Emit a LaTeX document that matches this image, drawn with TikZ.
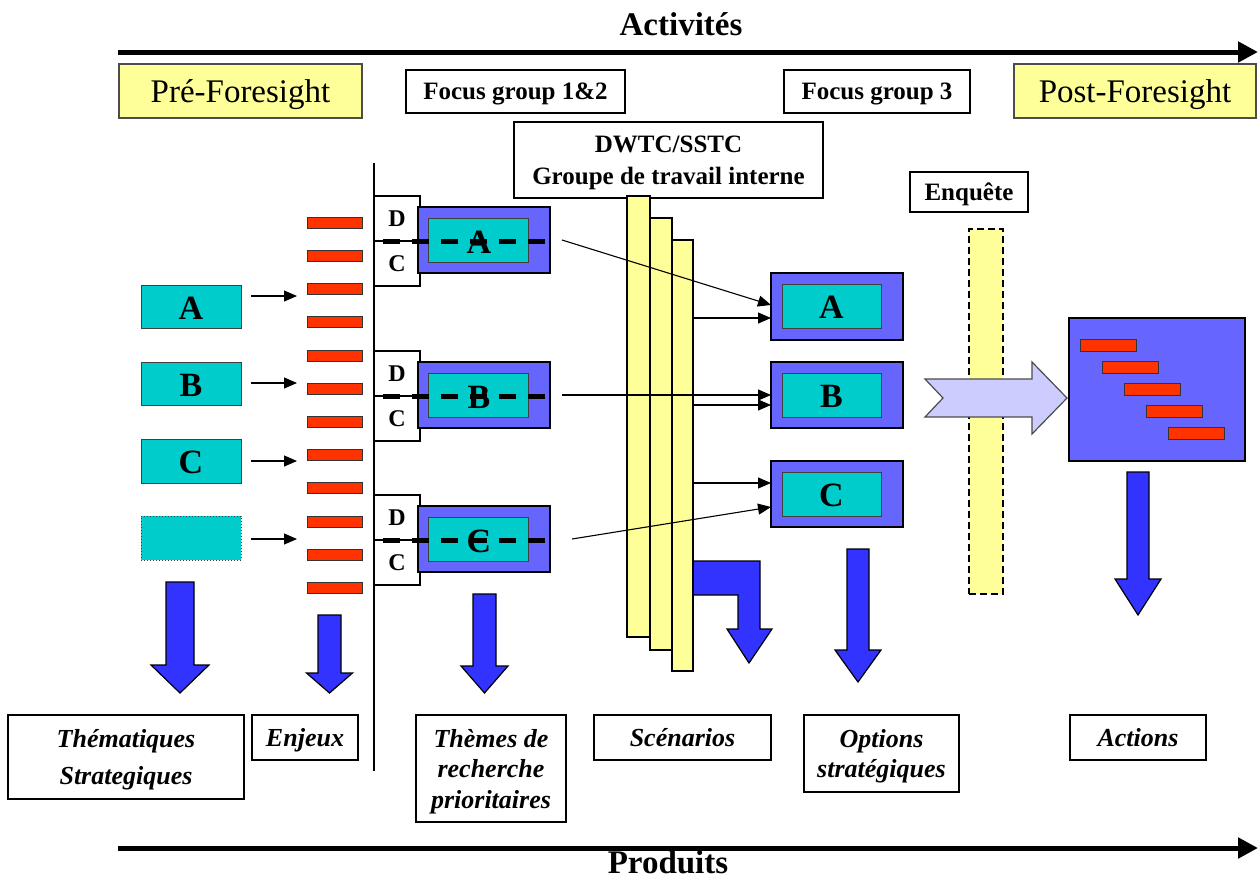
\documentclass[tikz,border=0pt]{standalone}
\usepackage{fontspec}
\setmainfont{Liberation Serif}
\usetikzlibrary{arrows.meta}

\definecolor{lyellow}{HTML}{FFFF99}
\definecolor{cyanb}{HTML}{00CCCC}
\definecolor{blueb}{HTML}{6666FF}
\definecolor{bluea}{HTML}{3333FF}
\definecolor{redb}{HTML}{FF3300}
\definecolor{lilac}{HTML}{CCCCFF}

% rectangle node from its corners: style, name, x1, y1, x2, y2, text
\newcommand\boxat[7]{\node[#1,minimum width={((#5)-(#3))*1pt},minimum height={((#6)-(#4))*1pt}] (#2) at ({((#3)+(#5))/2},{((#4)+(#6))/2}) {#7};}

% block arrow pointing down: centre x, shaft half width, head half width, top, head base, tip
\newcommand\dnarrow[6]{\filldraw[downarrow] ({#1-#2},#4) -- ({#1+#2},#4) -- ({#1+#2},#5) -- ({#1+#3},#5) -- (#1,#6) -- ({#1-#3},#5) -- ({#1-#2},#5) -- cycle;}

% decision group: D/C boxes, framed theme box and dashed split line
\newcommand\dcgroup[3]{%
  \boxat{wbox,dcl}{#1d}{374}{#2}{420}{#2+45}{D}
  \boxat{wbox,dcl}{#1c}{374}{#2+45}{420}{#2+90}{C}
  \boxat{bbox}{#1b}{418}{#2+11}{550}{#2+77}{}
  \boxat{cbox}{#1i}{428}{#2+22}{528}{#2+66}{}
  \node[bigl] (#1l) at (479,#2+45) {#3};
  \draw[splitdash] (383,#2+45) -- (546,#2+45);}

\tikzset{
  every node/.style={inner sep=0pt, outer sep=0pt},
  ybox/.style={draw=black!70, fill=lyellow, line width=1.3pt},
  wbox/.style={draw=black, fill=white, line width=1.2pt},
  cbox/.style={draw=black!75, fill=cyanb, line width=1pt},
  bbox/.style={draw=black, fill=blueb, line width=1.3pt},
  rbar/.style={draw=black!80, fill=redb, line width=1pt},
  sbar/.style={draw=black, fill=lyellow, line width=1.2pt},
  downarrow/.style={draw=black, fill=bluea, line width=1.2pt, line join=miter},
  thinarrow/.style={line width=1.1pt, -{Triangle[length=13pt,width=11pt]}},
  axisarrow/.style={line width=5pt, -{Triangle[length=20pt,width=20pt]}},
  splitdash/.style={line width=5pt, dash pattern=on 17pt off 12pt},
  headl/.style={font=\fontsize{33}{40}\selectfont\bfseries},
  phase/.style={font=\fontsize{33}{40}\selectfont, text depth=0pt},
  lbl/.style={font=\fontsize{25}{32}\selectfont\bfseries, text depth=0pt},
  dcl/.style={font=\fontsize{24}{28}\selectfont\bfseries, text depth=-2pt},
  bigl/.style={font=\fontsize{34}{40}\selectfont\bfseries, yshift=-1.5pt},
  prod/.style={font=\fontsize{26}{30.5}\selectfont\bfseries\itshape, align=center, text depth=-4pt},
}

\begin{document}
\begin{tikzpicture}[x=1pt,y=-1pt]
\useasboundingbox (0,0) rectangle (1260,879);

% timeline axes
\coordinate (actL) at (118,52);
\coordinate (actR) at (1258,52);
\coordinate (prdL) at (118,848);
\coordinate (prdR) at (1258,848);
\draw[axisarrow] (actL) -- (actR);
\draw[axisarrow] (prdL) -- (prdR);
\node[headl] (activ) at (681,24) {Activités};
\node[headl] (produ) at (668,862) {Produits};

% phase headers
\boxat{ybox,phase}{pre}{119}{64}{362}{118}{Pré-Foresight}
\boxat{wbox,lbl}{fg12}{406}{70}{625}{113}{Focus group 1\&2}
\boxat{wbox,lbl}{fg3}{784}{70}{970}{113}{Focus group 3}
\boxat{ybox,phase}{post}{1014}{64}{1256}{118}{Post-Foresight}
\boxat{wbox,lbl,align=center}{dwtc}{514}{122}{823}{198}{DWTC/SSTC\\Groupe de travail interne}
\boxat{wbox,lbl}{enq}{910}{172}{1028}{212}{Enquête}

% separator
\coordinate (sepT) at (374,163);
\coordinate (sepB) at (374,771);
\draw[line width=1.3pt] (sepT) -- (sepB);

% strategic themes
\boxat{cbox}{lA}{141}{285}{241}{328}{}
\boxat{cbox}{lB}{141}{362}{241}{405}{}
\boxat{cbox}{lC}{141}{439}{241}{483}{}
\boxat{cbox,dotted}{lD}{141}{516}{241}{560}{}
\node[bigl] (lAl) at (lA) {A};
\node[bigl] (lBl) at (lB) {B};
\node[bigl] (lCl) at (lC) {C};

% stakes
\foreach \i in {0,...,11}
  \boxat{rbar}{st\i}{307}{217.3+33.2*\i}{362}{228.3+33.2*\i}{};

\coordinate (eA) at (297,296);
\coordinate (eB) at (297,383);
\coordinate (eC) at (297,461);
\coordinate (eD) at (297,539);
\draw[thinarrow] ([xshift=10pt]lA.east |- eA) -- (eA);
\draw[thinarrow] ([xshift=10pt]lB.east |- eB) -- (eB);
\draw[thinarrow] ([xshift=10pt]lC.east |- eC) -- (eC);
\draw[thinarrow] ([xshift=10pt]lD.east |- eD) -- (eD);

% research themes
\dcgroup{gA}{196}{A}
\dcgroup{gB}{351}{B}
\dcgroup{gC}{495}{C}

% scenarios
\filldraw[downarrow] (685,561) -- (760,561) -- (760,629) -- (772,629) -- (749,663) -- (727,629) -- (738,629) -- (738,595) -- (685,595) -- cycle;
\boxat{sbar}{bar1}{627}{196}{650}{637}{}
\boxat{sbar}{bar2}{650}{218}{672}{650}{}
\boxat{sbar}{bar3}{672}{240}{693}{671}{}

% strategic options
\boxat{bbox}{oA}{771}{273}{903}{340}{}
\boxat{cbox}{oAi}{782}{284}{881}{328}{}
\boxat{bbox}{oB}{771}{362}{903}{428}{}
\boxat{cbox}{oBi}{782}{373}{881}{417}{}
\boxat{bbox}{oC}{771}{461}{903}{527}{}
\boxat{cbox}{oCi}{782}{472}{881}{516}{}
\node[bigl] (oAl) at (oAi) {A};
\node[bigl] (oBl) at (oBi) {B};
\node[bigl] (oCl) at (oCi) {C};

\draw[thinarrow] ([xshift=12pt]gAb.east) -- (oA.west |- 0,305);
\draw[thinarrow] ([xshift=12pt]gBb.east) -- (oB.west |- 0,395);
\draw[thinarrow] ([xshift=22pt]gCb.east) -- (oC.west |- 0,507);
\draw[thinarrow] (bar3.east |- 0,318) -- (oA.west |- 0,318);
\draw[thinarrow] (bar3.east |- 0,405) -- (oB.west |- 0,405);
\draw[thinarrow] (bar3.east |- 0,483) -- (oC.west |- 0,483);

% survey
\boxat{sbar,dashed,line width=1.8pt,dash pattern=on 7pt off 4pt}{surv}{969}{229}{1003}{594}{}
\filldraw[draw=black!70, fill=lilac, line width=1.2pt] (925,379) -- (1032,379) -- (1032,362) -- (1067,398) -- (1032,434) -- (1032,417) -- (925,417) -- (943,398) -- cycle;

% action plan
\boxat{bbox}{act}{1069}{318}{1245}{461}{}
\foreach \i in {0,...,4}
  \boxat{rbar}{ab\i}{1080+22*\i}{339+22*\i}{1136+22*\i}{351+22*\i}{};

% products arrows
\dnarrow{180}{14}{29}{582}{665}{693}
\dnarrow{329.5}{11.5}{23}{615}{673}{693}
\dnarrow{484.5}{11.5}{23.5}{594}{666}{693}
\dnarrow{858}{11}{23}{549}{650}{682}
\dnarrow{1138}{11}{23}{472}{579}{615}

% products
\boxat{wbox,prod}{pThem}{8}{715}{244}{799}{Thématiques\\[6.5pt]Strategiques}
\boxat{wbox,prod}{pEnj}{252}{715}{358}{760}{Enjeux}
\boxat{wbox,prod}{pRech}{416}{715}{566}{822}{Thèmes de\\recherche\\prioritaires}
\boxat{wbox,prod}{pScen}{594}{715}{771}{760}{Scénarios}
\boxat{wbox,prod}{pOpt}{804}{715}{959}{792}{Options\\stratégiques}
\boxat{wbox,prod}{pAct}{1070}{715}{1206}{760}{Actions}
\end{tikzpicture}
\end{document}
